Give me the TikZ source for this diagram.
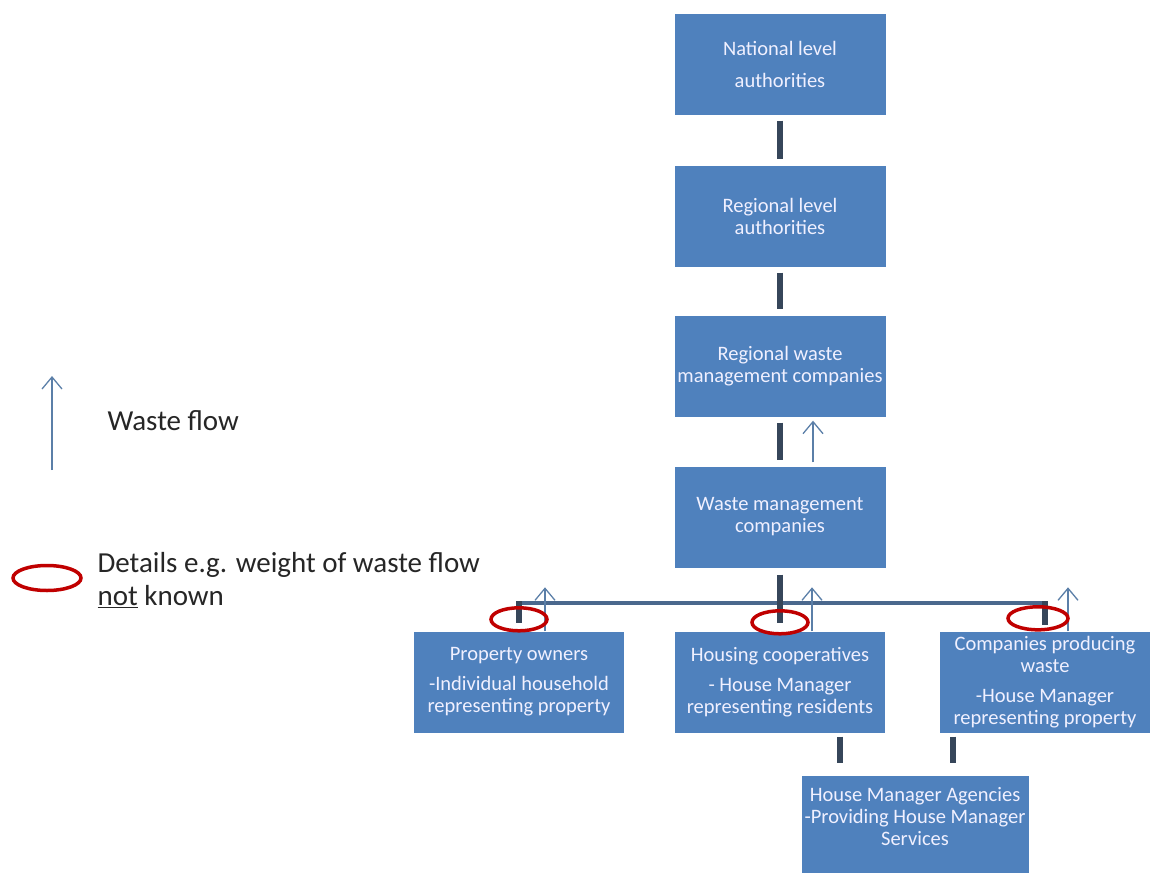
\documentclass[tikz,border=0pt]{standalone}
\usepackage{fontspec}
\setmainfont{Carlito}
\usepackage{xcolor}
\usepackage{tikz}
\usetikzlibrary{shapes,arrows.meta,positioning}

\definecolor{boxblue}{HTML}{4F81BD}
\definecolor{bardark}{HTML}{36465A}
\definecolor{linkblue}{HTML}{4A688D}
\definecolor{flowblue}{HTML}{5B7FA8}
\definecolor{ringred}{HTML}{C00000}
\definecolor{legendtext}{HTML}{262626}

\begin{document}
\begin{tikzpicture}[
			x=1pt,y=-1pt,
			box/.style={fill=boxblue,text=white!94!blue,minimum width=211pt,minimum height=101pt,inner sep=0pt,align=center,font=\fontsize{20.5}{22}\selectfont},
			bar/.style={bardark,line width=6pt,shorten <=6pt,shorten >=6pt},
			link/.style={linkblue,line width=4pt},
			flow/.style={flowblue,line width=1.3pt,-{Straight Barb[length=12pt,width=20pt]}},
			ring/.style={ellipse,draw=ringred,line width=3.5pt,minimum width=56pt,minimum height=23pt,inner sep=0pt},
			legend/.style={anchor=west,text=legendtext,align=left,font=\fontsize{29}{33}\selectfont}
			]
			\useasboundingbox (0,0) rectangle (1152,873);

			\node[box] (nat) at (780,64) {National level\\[10pt]authorities};
			\node[box] (reg) at (780,216) {Regional level\\authorities};
			\node[box] (rwm) at (780,366) {Regional waste\\management companies};
			\node[box] (wmc) at (780,517) {Waste management\\companies};

			\node[box,minimum width=210pt] (po) at (519,682) {Property owners\\[8pt]-Individual household\\representing property};
			\node[box,minimum width=210pt] (hc) at (780,682) {Housing cooperatives\\[8pt]- House Manager\\representing residents};
			\node[box,minimum width=210pt] (cp) at (1045,682) {Companies producing\\waste\\[8pt]-House Manager\\representing property};
			\node[box,minimum width=227pt,minimum height=97pt] (ha) at (915,824) {House Manager Agencies\\-Providing House Manager\\Services\\[-6pt]~};

			\coordinate (jl) at ([yshift=28pt]po.north);
			\coordinate (jr) at ([yshift=28pt]cp.north);
			\draw[link] (jl) -- (jr);

			\draw[bar] (nat) -- (reg);
			\draw[bar] (reg) -- (rwm);
			\draw[bar] (rwm) -- (wmc);
			\draw[bar,shorten <=7pt,shorten >=8pt] (wmc.south) -- (hc.north);
			\draw[bar,shorten <=-2pt,shorten >=8pt] (jl) -- (po.north);
			\draw[bar,shorten <=-2pt,shorten >=6pt] (jr) -- (cp.north);
			\draw[bar,shorten <=4pt,shorten >=12pt] ([xshift=60pt]hc.south) -- ([xshift=60pt]hc.south |- ha.north);
			\draw[bar,shorten <=4pt,shorten >=12pt] ([xshift=-92pt]cp.south) -- ([xshift=-92pt]cp.south |- ha.north);

			\draw[flow,shorten <=4pt,shorten >=4pt] ([xshift=33pt]wmc.north) -- ([xshift=33pt]rwm.south);
			\draw[flow] ([xshift=26pt]po.north) -- ++(0,-44);
			\draw[flow] ([xshift=32pt]hc.north) -- ++(0,-44);
			\draw[flow] ([xshift=23pt]cp.north) -- ++(0,-44);

			\node[ring] (opo) at ([yshift=12pt]po.north) {};
			\node[ring] (ohc) at ([yshift=9pt]hc.north) {};
			\node[ring,minimum width=60pt] (ocp) at ([xshift=-7pt,yshift=13pt]cp.north) {};

			% legend
			\coordinate (lf0) at (52,470);
			\coordinate (lf1) at (52,376);
			\draw[flow] (lf0) -- (lf1);
			\node[legend] (lflow) at (104,421) {Waste flow};
			\node[ring,minimum width=68pt,minimum height=25pt] (lring) at (47,578) {};
			\node[legend] (lnote) at (94,580) {Details e.g. weight of waste flow\\\underline{not} known};

			\end{tikzpicture}
\end{document}
